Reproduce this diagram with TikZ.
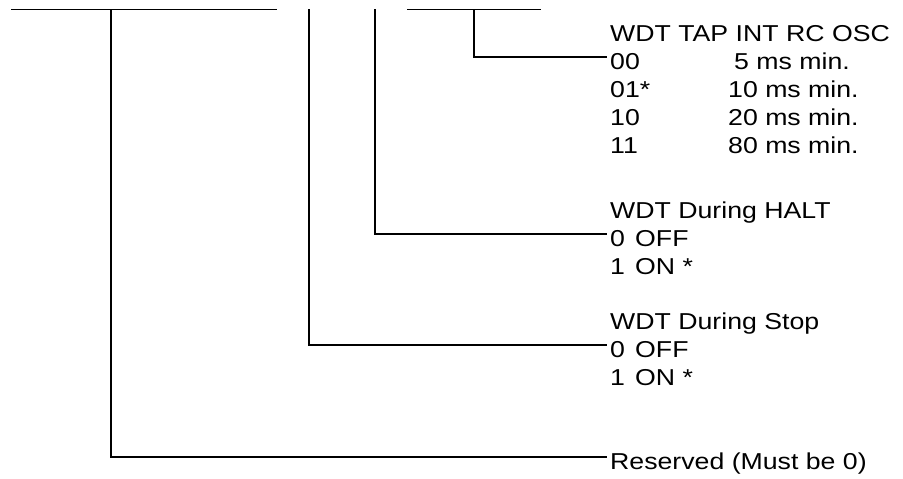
\documentclass[tikz,border=0pt]{standalone}
\usepackage{fontspec}
\setmainfont{Liberation Sans}[FakeStretch=1.16]
\begin{document}
\begin{tikzpicture}[x=1pt,y=1pt,
  wire/.style={line width=1.2pt,line cap=rect},
  lbl/.style={anchor=base west,inner sep=0pt,font=\fontsize{23}{27}\selectfont}]
\useasboundingbox (0,0) rectangle (903,-479);
% top bars and drop points
\coordinate (bar1l) at (12,-9.5);
\coordinate (bar1r) at (276,-9.5);
\coordinate (bar3l) at (408,-9.5);
\coordinate (bar3r) at (540,-9.5);
\coordinate (t1) at (111,-9.5);
\coordinate (t2) at (309,-9.5);
\coordinate (t3) at (375,-9.5);
\coordinate (t4) at (474,-9.5);
% line ends
\coordinate (e4) at (606,-57);
\coordinate (e3) at (606,-234);
\coordinate (e2) at (606,-345);
\coordinate (e1) at (606,-457);
% labels: WDT TAP
\node[lbl] (tap) at (610,-41) {WDT TAP INT RC OSC};
\node[lbl] (c00) at (610,-69) {00};
\node[lbl] (c01) at (610,-97) {01*};
\node[lbl] (c10) at (610,-125) {10};
\node[lbl] (c11) at (610,-153) {11};
\node[lbl] (m00) at (734,-69) {5 ms min.};
\node[lbl] (m01) at (728,-97) {10 ms min.};
\node[lbl] (m10) at (728,-125) {20 ms min.};
\node[lbl] (m11) at (728,-153) {80 ms min.};
% HALT
\node[lbl] (halt) at (610,-218) {WDT During HALT};
\node[lbl] (h0) at (610,-246) {0};
\node[lbl] (h0t) at (635,-246) {OFF};
\node[lbl] (h1) at (610,-274) {1};
\node[lbl] (h1t) at (635,-274) {ON *};
% Stop
\node[lbl] (stop) at (610,-329) {WDT During Stop};
\node[lbl] (s0) at (610,-357) {0};
\node[lbl] (s0t) at (635,-357) {OFF};
\node[lbl] (s1) at (610,-385) {1};
\node[lbl] (s1t) at (635,-385) {ON *};
% Reserved
\node[lbl] (res) at (610,-469) {Reserved (Must be 0)};
% wires
\draw[wire] (bar1l) -- (bar1r);
\draw[wire] (bar3l) -- (bar3r);
\draw[wire] (t1) |- (e1);
\draw[wire] (t2) |- (e2);
\draw[wire] (t3) |- (e3);
\draw[wire] (t4) |- (e4);
\end{tikzpicture}
\end{document}
